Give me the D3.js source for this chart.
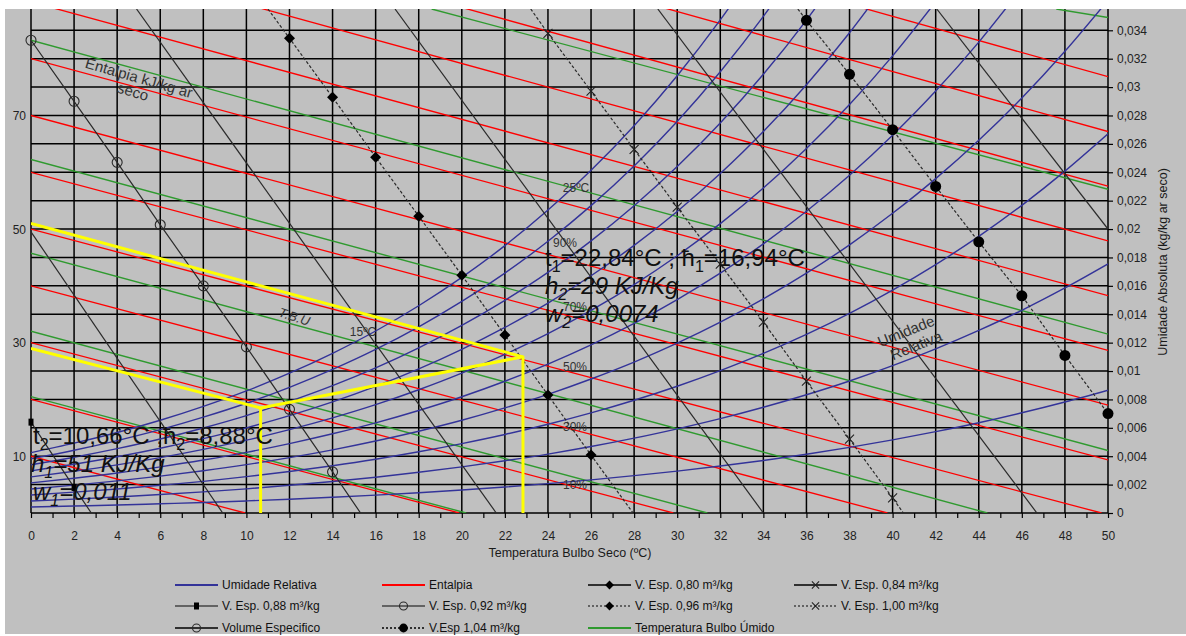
<!DOCTYPE html>
<html>
<head>
<meta charset="utf-8">
<script src="https://cdn.jsdelivr.net/npm/d3@7"></script>
<style>
  body { margin: 0; background: #ffffff; }
  svg text { font-family: "Liberation Sans", Arial, sans-serif; fill: #1a1a1a; }
</style>
</head>
<body>
<svg id="chart" width="1186" height="636"></svg>
<script>
// ---- data (T in ºC, w in kg/kg ar seco) ----
const xTicks = [0,2,4,6,8,10,12,14,16,18,20,22,24,26,28,30,32,34,36,38,40,42,44,46,48,50];
const wTicks = [0,0.002,0.004,0.006,0.008,0.01,0.012,0.014,0.016,0.018,0.02,0.022,0.024,0.026,0.028,0.03,0.032,0.034];
const hTicks = [10,30,50,70];

// relative humidity curves, one value per entry of xTicks
const rh100 = [0.00425,0.00492,0.00567,0.00653,0.00751,0.00860,0.00985,0.01125,0.01282,0.01460,0.01660,0.01883,0.02134,0.02414,0.02728,0.03080,0.03473,0.03911];
const rh90 = [0.00382,0.00442,0.00510,0.00587,0.00675,0.00773,0.00885,0.01011,0.01152,0.01311,0.01490,0.01690,0.01914,0.02165,0.02445,0.02758,0.03108,0.03498,0.03933];
const rh80 = [0.00340,0.00393,0.00453,0.00521,0.00599,0.00686,0.00786,0.00897,0.01022,0.01163,0.01321,0.01498,0.01695,0.01917,0.02164,0.02440,0.02747,0.03090,0.03472,0.03897];
const rh70 = [0.00297,0.00343,0.00396,0.00456,0.00524,0.00600,0.00686,0.00783,0.00892,0.01015,0.01153,0.01307,0.01478,0.01671,0.01885,0.02124,0.02391,0.02687,0.03017,0.03383,0.03790];
const rh60 = [0.00254,0.00294,0.00339,0.00390,0.00448,0.00513,0.00587,0.00670,0.00763,0.00868,0.00985,0.01117,0.01263,0.01427,0.01609,0.01812,0.02038,0.02289,0.02568,0.02877,0.03220,0.03601];
const rh50 = [0.00212,0.00245,0.00282,0.00325,0.00373,0.00427,0.00489,0.00558,0.00635,0.00722,0.00819,0.00928,0.01049,0.01184,0.01335,0.01503,0.01689,0.01896,0.02125,0.02379,0.02661,0.02972,0.03317,0.03698];
const rh40 = [0.00169,0.00196,0.00226,0.00260,0.00298,0.00341,0.00390,0.00445,0.00507,0.00576,0.00653,0.00740,0.00836,0.00944,0.01063,0.01196,0.01344,0.01508,0.01689,0.01889,0.02111,0.02355,0.02625,0.02923,0.03252,0.03612];
const rh30 = [0.00127,0.00147,0.00169,0.00195,0.00223,0.00256,0.00292,0.00333,0.00379,0.00431,0.00489,0.00553,0.00625,0.00705,0.00794,0.00893,0.01003,0.01124,0.01258,0.01406,0.01570,0.01750,0.01948,0.02167,0.02408,0.02671];
const rh20 = [0.00085,0.00098,0.00113,0.00130,0.00149,0.00170,0.00195,0.00222,0.00252,0.00287,0.00325,0.00368,0.00415,0.00468,0.00527,0.00593,0.00665,0.00745,0.00833,0.00930,0.01038,0.01156,0.01286,0.01428,0.01585,0.01755];
const rh10 = [0.00042,0.00049,0.00056,0.00065,0.00074,0.00085,0.00097,0.00111,0.00126,0.00143,0.00162,0.00183,0.00207,0.00233,0.00263,0.00295,0.00331,0.00370,0.00414,0.00462,0.00515,0.00573,0.00636,0.00706,0.00782,0.00865];

// enthalpy lines (kJ/kg): w at T=0, end point
const enthalpy = [10,20,30,40,50,60,70,80,90,100,110,120,130];
const enthalpyW0 = [0.0040,0.0080,0.0120,0.0160,0.0200,0.0240,0.0280,0.0320,0.0360,0.0400,0.0440,0.0480,0.0520];
const enthalpyEndT = [9.94,19.88,29.82,39.76,49.7,50,50,50,50,50,50,50,50];
const enthalpyEndW = [0,0,0,0,0,0.00374,0.00760,0.01145,0.01531,0.01916,0.02302,0.02687,0.03073];

// wet bulb lines (ºC)
const wetBulb = [5,10,15,20,25,30,35];
const wetBulbStart = [[0,0.0082],[0,0.0128],[0,0.0183],[0,0.0249],[0,0.0333],[18.6,0.0355],[47.6,0.0355]];
const wetBulbEnd = [[20.2,0],[31.4,0],[44.4,0],[50,0.0044],[50,0.0126],[50,0.0228],[50,0.0349]];

// specific volume lines (m³/kg)
const vol088 = [[0,0.0064],[2,0.0018],[2.8,0]];
const vol090 = [[0,0.0198],[8.9,0]];
const vol092 = [[0,0.0333],[2,0.0290],[4,0.0247],[6,0.0203],[8,0.0160],[10,0.0117],[12,0.0073],[14,0.0029],[15.3,0]];
const vol094 = [[4.9,0.0355],[21.6,0]];
const vol096 = [[11.0,0.0355],[12,0.03344],[14,0.02928],[16,0.02506],[18,0.02091],[20,0.01675],[22,0.01253],[24,0.00831],[26,0.00408],[27.95,0]];
const vol098 = [[16.9,0.0355],[34.0,0]];
const vol100 = [[23.2,0.0355],[24,0.03379],[26,0.02971],[28,0.02562],[30,0.02154],[32,0.01753],[34,0.01345],[36,0.00929],[38,0.00521],[40,0.00106],[40.5,0]];
const vol102 = [[29.1,0.0355],[46.7,0]];
const vol104 = [[35.6,0.0355],[36,0.0347],[38,0.0309],[40,0.0270],[42,0.0230],[44,0.0191],[46,0.0153],[48,0.0111],[50,0.0070]];
const vol106 = [[42.05,0.0355],[50,0.0200]];

// process: states 1 and 2
const stateT = [22.84, 10.66];
const stateW = [0.011, 0.0074];
const stateH = [51, 29];

const legendNames = ["Umidade Relativa","Entalpia","V. Esp. 0,80 m³/kg","V. Esp. 0,84 m³/kg",
  "V. Esp. 0,88 m³/kg","V. Esp. 0,92 m³/kg","V. Esp. 0,96 m³/kg","V. Esp. 1,00 m³/kg",
  "Volume Especifico","V.Esp 1,04 m³/kg","Temperatura Bulbo Úmido"];

// ---- styles ----
const BLUE = "#333399", RED = "#ff0000", GREEN = "#2f9a2f", BLACK = "#2a2a2a", YELLOW = "#ffff00";

const legendStyle = [
  {stroke: BLUE}, {stroke: RED},
  {stroke: "#000", marker: "diamond"}, {stroke: "#000", marker: "x"},
  {stroke: "#444", marker: "square"}, {stroke: "#444", marker: "circle"},
  {stroke: "#444", dash: "2,2", marker: "diamond"}, {stroke: "#444", dash: "2,2", marker: "x"},
  {stroke: "#000", marker: "circle"}, {stroke: "#000", dash: "2,2", marker: "dot"},
  {stroke: GREEN}
];

const svg = d3.select("#chart");

const x = d3.scaleLinear().domain([0, 50]).range([31, 1108]);
const y = d3.scaleLinear().domain([0, 0.0355]).range([513, 9]);
const yH = d3.scaleLinear().domain([0, 0.0355 * 2501]).range([513, 9]);

// chart background
svg.append("rect").attr("x", 5).attr("y", 9).attr("width", 1181).attr("height", 625).attr("fill", "#c0c0c0");

svg.append("defs").append("clipPath").attr("id", "plot")
  .append("rect").attr("x", x(0)).attr("y", y(0.0355)).attr("width", x(50) - x(0)).attr("height", y(0) - y(0.0355));

// gridlines
const grid = svg.append("g").attr("stroke", "#000").attr("stroke-width", 1.5);
grid.selectAll(".gv").data(xTicks).join("line")
  .attr("x1", d => x(d)).attr("x2", d => x(d)).attr("y1", y(0)).attr("y2", y(0.0355));
grid.selectAll(".gh").data(wTicks).join("line")
  .attr("x1", x(0)).attr("x2", x(50)).attr("y1", d => y(d)).attr("y2", d => y(d));

const plot = svg.append("g").attr("clip-path", "url(#plot)");
const line = d3.line().x(d => x(d[0])).y(d => y(d[1]));
const smooth = d3.line().x(d => x(d[0])).y(d => y(d[1])).curve(d3.curveMonotoneX);

// wet bulb (green)
plot.append("g").selectAll("path").data(wetBulb).join("path")
  .attr("d", (d, i) => line([wetBulbStart[i], wetBulbEnd[i]]))
  .attr("fill", "none").attr("stroke", GREEN).attr("stroke-width", 1.4);

// enthalpy (red)
plot.append("g").selectAll("path").data(enthalpy).join("path")
  .attr("d", (d, i) => line([[0, enthalpyW0[i]], [enthalpyEndT[i], enthalpyEndW[i]]]))
  .attr("fill", "none").attr("stroke", RED).attr("stroke-width", 1.3);

// relative humidity (blue)
const rhCurves = [rh10, rh20, rh30, rh40, rh50, rh60, rh70, rh80, rh90, rh100];
plot.append("g").selectAll("path").data(rhCurves).join("path")
  .attr("d", c => smooth(c.map((w, i) => [xTicks[i], w])))
  .attr("fill", "none").attr("stroke", BLUE).attr("stroke-width", 1.4);

// specific volume (black)
const volLines = [
  {pts: vol088, marker: "square"}, {pts: vol090}, {pts: vol092, marker: "circle"}, {pts: vol094},
  {pts: vol096, dash: "3,2", marker: "diamond"}, {pts: vol098},
  {pts: vol100, dash: "3,2", marker: "x"}, {pts: vol102},
  {pts: vol104, dash: "3,2", marker: "dot"}, {pts: vol106}
];
plot.append("g").selectAll("path").data(volLines).join("path")
  .attr("d", d => line(d.pts))
  .attr("fill", "none").attr("stroke", BLACK).attr("stroke-width", 1.2)
  .attr("stroke-dasharray", d => d.dash || null);

// yellow process lines
const yl = svg.append("g").attr("clip-path", "url(#plot)").attr("fill", "none")
  .attr("stroke", YELLOW).attr("stroke-width", 3).attr("stroke-linejoin", "round");
stateT.forEach((t, i) => {
  yl.append("path").attr("d", line([[0, stateH[i] / 2501], [t, stateW[i]], [t, 0]]));
});
yl.append("path").attr("d", line([[stateT[1], stateW[1]], [stateT[0], stateW[0]]]));

function drawMarker(g, type, cx, cy, s) {
  s = s || 1;
  if (type === "diamond") {
    const r = 5.5 * s;
    g.append("path").attr("d", `M${cx},${cy - r}L${cx + r},${cy}L${cx},${cy + r}L${cx - r},${cy}Z`).attr("fill", "#000");
  } else if (type === "x") {
    const r = 4.5 * s;
    g.append("path").attr("d", `M${cx - r},${cy - r}L${cx + r},${cy + r}M${cx - r},${cy + r}L${cx + r},${cy - r}`)
      .attr("stroke", "#222").attr("stroke-width", 1.1).attr("fill", "none");
  } else if (type === "square") {
    g.append("rect").attr("x", cx - 2.5).attr("y", cy - 3.5).attr("width", 5).attr("height", 7).attr("fill", "#000");
  } else if (type === "circle") {
    g.append("circle").attr("cx", cx).attr("cy", cy).attr("r", 5 * s).attr("fill", "none").attr("stroke", "#2a2a2a").attr("stroke-width", 1.1);
  } else if (type === "dot") {
    g.append("circle").attr("cx", cx).attr("cy", cy).attr("r", 5.5 * s).attr("fill", "#000");
  }
}

const markers = svg.append("g");
volLines.filter(d => d.marker).forEach(d => {
  d.pts.filter(p => p[0] % 2 === 0).forEach(p => drawMarker(markers, d.marker, x(p[0]), y(p[1])));
});

// axes
const fmtComma = v => String(+v.toFixed(3)).replace(".", ",");
const xMinor = svg.append("g").attr("transform", `translate(0,${y(0)})`)
  .call(d3.axisBottom(x).tickValues(d3.range(0, 51, 1)).tickSize(5).tickFormat(""));
const xAxis = svg.append("g").attr("transform", `translate(0,${y(0)})`)
  .call(d3.axisBottom(x).tickValues(xTicks).tickSize(0).tickPadding(18));
const rAxis = svg.append("g").attr("transform", `translate(${x(50)},0)`)
  .call(d3.axisRight(y).tickValues(wTicks).tickSize(5).tickPadding(4).tickFormat(fmtComma));
const lAxis = svg.append("g").attr("transform", `translate(${x(0)},0)`)
  .call(d3.axisLeft(yH).tickValues(hTicks).tickSize(0).tickPadding(5));
[xMinor, xAxis, rAxis, lAxis].forEach(a => {
  a.select(".domain").remove();
  a.selectAll(".tick line").attr("stroke", "#000").attr("stroke-width", 1.2);
  a.selectAll("text").attr("font-size", 12).attr("font-family", null).style("fill", "#222");
});

svg.append("text").attr("x", 570).attr("y", 557).attr("text-anchor", "middle").attr("font-size", 12.5)
  .text("Temperatura Bulbo Seco (ºC)");
svg.append("text").attr("transform", "translate(1167,262) rotate(-90)").attr("text-anchor", "middle").attr("font-size", 12.5)
  .text("Umidade Absoluta (kg/kg ar seco)");

// chart labels
const smallLabels = [
  {t: "25ºC", x: 576, y: 192}, {t: "90%", x: 565, y: 247}, {t: "70%", x: 575, y: 311},
  {t: "50%", x: 575, y: 371}, {t: "30%", x: 575, y: 431}, {t: "10%", x: 575, y: 489},
  {t: "15ºC", x: 363, y: 336}
];
svg.append("g").selectAll("text").data(smallLabels).join("text")
  .attr("x", d => d.x).attr("y", d => d.y).attr("text-anchor", "middle").attr("font-size", 12)
  .style("fill", "#333").text(d => d.t);

svg.append("text").attr("transform", "translate(293,321) rotate(18)").attr("text-anchor", "middle")
  .attr("font-size", 13).attr("font-style", "italic").style("fill", "#333").text("T.B.U");

const ent = svg.append("g").attr("transform", "translate(139,78) rotate(16)");
ent.append("text").attr("y", 5).attr("text-anchor", "middle").attr("font-size", 15).style("fill", "#333").text("Entalpia kJ/kg ar");
ent.append("text").attr("x", -2).attr("y", 20).attr("text-anchor", "middle").attr("font-size", 15).style("fill", "#333").text("seco");

const ur = svg.append("g").attr("transform", "translate(908,336) rotate(-22)");
ur.append("text").attr("y", 0).attr("text-anchor", "middle").attr("font-size", 15).style("fill", "#333").text("Umidade");
ur.append("text").attr("x", 4).attr("y", 17).attr("text-anchor", "middle").attr("font-size", 15).style("fill", "#333").text("Relativa");

// annotation boxes with subscripts
const annotations = [
  {x: 545, y: 266, italic: false, parts: [["t", 0], ["1", 1], ["=22,84°C ; ħ", 0], ["1", 1], ["=16,94°C", 0]]},
  {x: 545, y: 294, italic: true, parts: [["h", 0], ["2", 1], ["=29 KJ/Kg", 0]]},
  {x: 545, y: 322, italic: true, parts: [["w", 0], ["2", 1], ["=0,0074", 0]]},
  {x: 33, y: 444, italic: false, parts: [["t", 0], ["2", 1], ["=10,66°C ;ħ", 0], ["2", 1], ["=8,88°C", 0]]},
  {x: 31, y: 472, italic: true, parts: [["h", 0], ["1", 1], ["=51 KJ/Kg", 0]]},
  {x: 33, y: 500, italic: true, parts: [["w", 0], ["1", 1], ["=0,011", 0]]}
];
annotations.forEach(a => {
  const t = svg.append("text").attr("x", a.x).attr("y", a.y).attr("font-size", 24)
    .attr("font-style", a.italic ? "italic" : null).style("fill", "#111");
  let down = false;
  a.parts.forEach(p => {
    const sp = t.append("tspan").text(p[0]);
    if (p[1]) { sp.attr("font-size", 16).attr("dy", 6); down = true; }
    else if (down) { sp.attr("dy", -6); down = false; }
  });
});

// legend
const colX = [175, 382, 588, 794], rowY = [585, 606, 628];
const legend = svg.append("g");
legendNames.forEach((name, i) => {
  const cx = colX[i % 4], cy = rowY[Math.floor(i / 4)], st = legendStyle[i];
  legend.append("line").attr("x1", cx).attr("x2", cx + 43).attr("y1", cy).attr("y2", cy)
    .attr("stroke", st.stroke).attr("stroke-width", st.marker ? 1.3 : 2).attr("stroke-dasharray", st.dash || null);
  if (st.marker) drawMarker(legend, st.marker, cx + 21.5, cy, 0.8);
  legend.append("text").attr("x", cx + 47).attr("y", cy + 4).attr("font-size", 12).style("fill", "#111").text(name);
});
</script>
</body>
</html>
